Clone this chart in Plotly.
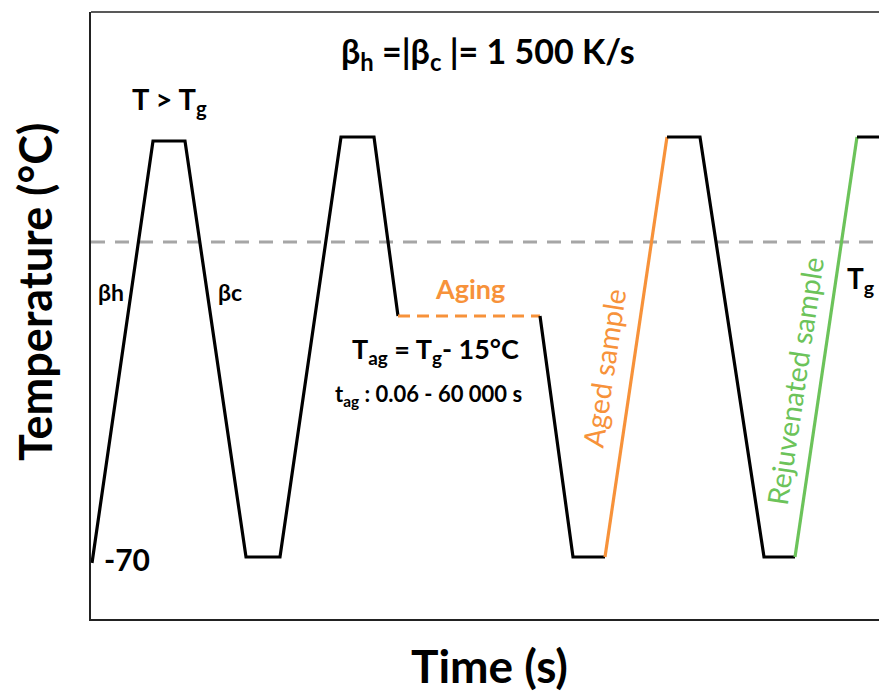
import plotly.graph_objects as go

# ---- data (time in arbitrary units, temperature in schematic °C) ----
t_black1 = [1, 62, 94, 155, 189, 250, 283, 307]
T_black1 = [-73, 138, 138, -70, -70, 140, 140, 50.5]
t_aging = [307, 449]
T_aging = [50.5, 50.5]
t_black2 = [449, 482, 514]
T_black2 = [50.5, -70, -70]
t_aged = [514, 576]
T_aged = [-70, 140]
t_black3 = [576, 609, 673, 704]
T_black3 = [140, 140, -70, -70]
t_rejuv = [704, 766]
T_rejuv = [-70, 140]
t_black4 = [766, 800]
T_black4 = [140, 140]
Tg_value = 87.5
x_range = [0, 788]
y_range = [-101, 202.5]

ORANGE = "#F7923A"
GREEN = "#6CC35A"
FONT = "Lato"

fig = go.Figure()

fig.add_trace(go.Scatter(x=[x_range[0], x_range[1]], y=[Tg_value, Tg_value], mode="lines",
                         line=dict(color="#A6A6A6", width=3, dash="14px,10px")))
for tx, ty, col, dash in [
    (t_black1, T_black1, "black", "solid"),
    (t_aging, T_aging, ORANGE, "12px,7px"),
    (t_black2, T_black2, "black", "solid"),
    (t_aged, T_aged, ORANGE, "solid"),
    (t_black3, T_black3, "black", "solid"),
    (t_rejuv, T_rejuv, GREEN, "solid"),
    (t_black4, T_black4, "black", "solid"),
]:
    fig.add_trace(go.Scatter(x=tx, y=ty, mode="lines",
                             line=dict(color=col, width=3.2, dash=dash)))

def ann(x, y, text, size, color="black", bold=True, angle=0, xanchor="center"):
    fig.add_annotation(x=x, y=y, xref="x", yref="y", text=(f"<b>{text}</b>" if bold else text),
                       showarrow=False, textangle=angle, xanchor=xanchor, yanchor="middle",
                       font=dict(family=FONT, size=size, color=color))

ann(397, 182, "β<sub>h</sub> =|β<sub>c</sub> |= 1 500 K/s", 34)
ann(78, 158.5, "T > T<sub>g</sub>", 29)
ann(20, 62.5, "βh", 23)
ann(139, 62.5, "βc", 23)
ann(379, 64.5, "Aging", 27, color=ORANGE)
ann(344, 33.5, "T<sub>ag</sub> = T<sub>g</sub>- 15°C", 27)
ann(337, 11, "t<sub>ag</sub> : 0.06 - 60 000 s", 22)
ann(513, 24.5, "Aged sample", 28.5, color=ORANGE, bold=False, angle=-81.6)
ann(704, 18, "Rejuvenated sample", 28.5, color=GREEN, bold=False, angle=-81.6)
ann(754, 68.5, "T<sub>g</sub>", 28, xanchor="left")
ann(11, -71, "-70", 30, xanchor="left")

fig.add_annotation(x=0, y=0.5387, xref="paper", yref="paper", xshift=-56,
                   text="<b>Temperature (°C)</b>", showarrow=False, textangle=-90,
                   xanchor="center", yanchor="middle", font=dict(family=FONT, size=45, color="black"))
fig.add_annotation(x=0.506, y=0, xref="paper", yref="paper", yshift=-46,
                   text="<b>Time (s)</b>", showarrow=False,
                   xanchor="center", yanchor="middle", font=dict(family=FONT, size=46, color="black"))

fig.add_shape(type="line", xref="paper", yref="paper", x0=0, x1=1, y0=1, y1=1,
              line=dict(color="#222222", width=1.5))

fig.update_layout(
    width=879, height=695,
    margin=dict(l=91, r=0, t=12, b=76),
    plot_bgcolor="white", paper_bgcolor="white",
    showlegend=False,
    xaxis=dict(range=x_range, showgrid=False, zeroline=False, showticklabels=False,
               ticks="", showline=True, linecolor="#222222", linewidth=1.5),
    yaxis=dict(range=y_range, showgrid=False, zeroline=False, showticklabels=False,
               ticks="", showline=True, linecolor="#222222", linewidth=1.5),
)

fig.write_html("out.html", config={"displayModeBar": False},
               post_script="document.body.style.margin='0';document.body.style.overflow='hidden';")
